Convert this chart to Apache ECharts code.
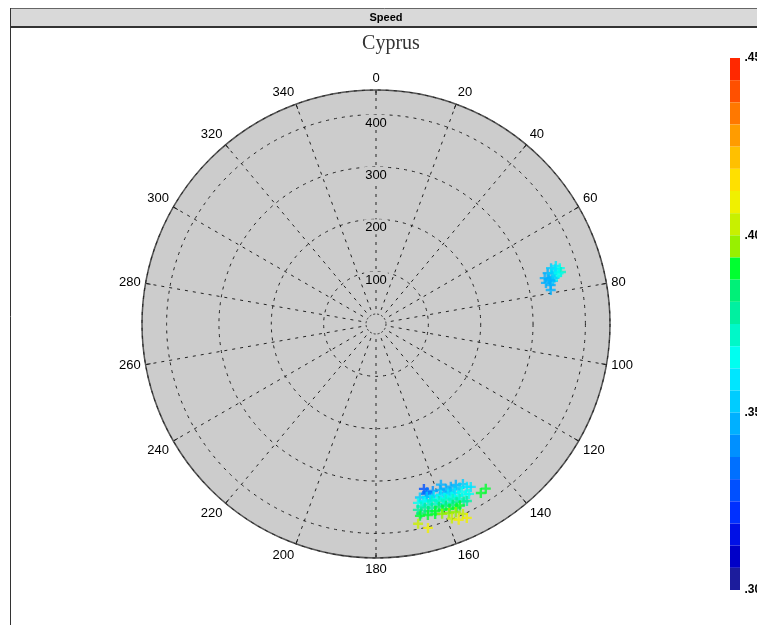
<!DOCTYPE html>
<html>
<head>
<meta charset="utf-8">
<script src="https://cdn.jsdelivr.net/npm/echarts@6/dist/echarts.min.js"></script>
<style>
  html, body { margin: 0; padding: 0; background: #ffffff; }
  #chart { width: 757px; height: 625px; }
</style>
</head>
<body>
<div id="chart"></div>
<script>
// Range rings and bearing spokes
const rangeMax = 447;
const rangeStep = 100;
const bearingStep = 20;

// Speed colour scale (bands listed from slow to fast)
const speedMin = 0.30;
const speedMax = 0.45;
const bandColors = [
  '#1c1c9c', '#0000c8', '#0010e6', '#0030ff', '#0050ff', '#0070ff',
  '#0090ff', '#00b0ff', '#00ccff', '#00e6ff', '#00fff0', '#00f8c8',
  '#00f0a0', '#00f078', '#00ff30', '#98f000', '#c8f000', '#f0f000',
  '#ffe000', '#ffc000', '#ff9c00', '#ff7800', '#ff5000', '#ff2800'
];

// Observations: bearing (degrees), range and speed
const bearing = [
  73.5, 74.8, 72.3, 72.1, 73.1, 74.3, 73.8, 75.4, 76.3, 75.1, 77.4, 79.0, 76.4,
  74.0, 73.0, 75.5, 74.5, 76.0,
  163.8, 163.6, 161.2, 158.9, 157.0, 155.3, 153.6, 151.5, 149.8, 158.0,
  163.1, 162.5, 158.2, 156.3, 154.6, 152.9, 150.8,
  165.8, 163.6, 161.4, 159.2, 157.0, 155.0, 152.9, 151.3,
  165.1, 162.9, 160.7, 158.5, 156.3, 154.3, 152.2,
  166.8, 164.6, 162.4, 160.4, 158.3, 156.3, 154.4, 152.8,
  166.1, 163.9, 161.7, 159.7, 157.6, 155.6, 153.7,
  167.3, 165.1, 163.1, 161.0, 159.0, 157.0, 155.2,
  166.6, 164.4, 162.4, 160.3, 158.3, 156.3,
  167.1, 164.8, 162.7, 160.8, 158.9, 157.0, 155.4, 154.9, 158.7, 157.1,
  168.1, 165.7, 146.3, 148.2
];
const range = [
  342, 334, 351, 361, 367, 367, 356, 341, 348, 357, 342, 340, 334,
  350, 358, 352, 362, 343,
  328, 338, 337, 340, 342, 342, 343, 348, 360, 331,
  336, 346, 348, 350, 350, 351, 356,
  342, 344, 346, 349, 352, 356, 360, 370,
  350, 352, 354, 357, 360, 364, 368,
  351, 352, 354, 359, 361, 365, 370, 380,
  359, 360, 362, 367, 369, 373, 378,
  364, 363, 367, 369, 372, 375, 382,
  372, 371, 375, 377, 380, 383,
  376, 378, 380, 384, 387, 390, 399, 409, 399, 406,
  390, 402, 378, 380
];
const speed = [
  0.350, 0.348, 0.355, 0.362, 0.368, 0.372, 0.360, 0.350, 0.352, 0.365, 0.350, 0.348, 0.350,
  0.356, 0.362, 0.356, 0.368, 0.350,
  0.330, 0.335, 0.340, 0.345, 0.345, 0.350, 0.350, 0.355, 0.360, 0.345,
  0.334, 0.338, 0.348, 0.348, 0.352, 0.354, 0.358,
  0.355, 0.355, 0.360, 0.360, 0.360, 0.360, 0.365, 0.365,
  0.360, 0.360, 0.364, 0.364, 0.365, 0.366, 0.368,
  0.365, 0.365, 0.370, 0.370, 0.370, 0.372, 0.375, 0.378,
  0.370, 0.370, 0.373, 0.374, 0.375, 0.378, 0.380,
  0.378, 0.380, 0.380, 0.383, 0.385, 0.385, 0.388,
  0.385, 0.386, 0.388, 0.390, 0.392, 0.392,
  0.392, 0.390, 0.392, 0.395, 0.398, 0.395, 0.402, 0.412, 0.405, 0.410,
  0.405, 0.408, 0.390, 0.388
];

const points = bearing.map((b, i) => [range[i], b, speed[i]]);

const bandWidth = (speedMax - speedMin) / bandColors.length;
const pieces = bandColors.map((c, i) => ({
  min: speedMin + i * bandWidth,
  max: speedMin + (i + 1) * bandWidth,
  color: c
}));

const sans = '"Liberation Sans", Arial, sans-serif';
const chart = echarts.init(document.getElementById('chart'), null, { renderer: 'canvas' });

const barTop = 58, barHeight = 532;
const dialCenter = [376, 324], dialRadius = 234, hubRadius = 10;

const hiddenAngle = (polarIndex, z) => ({
  polarIndex, type: 'value', min: 0, max: 360, startAngle: 90, z,
  axisLine: { show: false }, axisTick: { show: false },
  axisLabel: { show: false }, splitLine: { show: false }
});

chart.setOption({
  backgroundColor: '#ffffff',
  animation: false,
  title: {
    text: 'Cyprus',
    left: 386,
    top: 29,
    textAlign: 'center',
    textStyle: { fontFamily: '"Liberation Serif", "Times New Roman", serif', fontSize: 20, fontWeight: 'normal', color: '#333333' }
  },
  graphic: [
    {
      type: 'rect', silent: true, z: 0,
      shape: { x: 10.5, y: 8.5, width: 760, height: 18 },
      style: { fill: '#d9d9d9', stroke: '#666666', lineWidth: 1 }
    },
    {
      type: 'line', silent: true, z: 1,
      shape: { x1: 10, y1: 27, x2: 757, y2: 27 },
      style: { stroke: '#333333', lineWidth: 2 }
    },
    {
      type: 'line', silent: true, z: 1,
      shape: { x1: 10.5, y1: 8, x2: 10.5, y2: 625 },
      style: { stroke: '#333333', lineWidth: 1 }
    },
    {
      type: 'text', silent: true, z: 2,
      x: 386, y: 18,
      style: { text: 'Speed', fill: '#000000', font: 'bold 11px ' + sans, align: 'center', verticalAlign: 'middle' }
    }
  ],
  polar: [
    { center: dialCenter, radius: dialRadius },               // dial rim, rings, labels
    { center: dialCenter, radius: hubRadius },                // small dashed hub
    { center: dialCenter, radius: dialRadius },               // grey dial face
    { center: dialCenter, radius: [hubRadius, dialRadius] }   // spokes from hub to rim
  ],
  angleAxis: [
    {
      polarIndex: 0,
      type: 'value', min: 0, max: 360, interval: bearingStep,
      startAngle: 90, clockwise: true, z: 1,
      axisLine: { lineStyle: { color: '#555555', width: 1.5 } },
      axisTick: { show: true, inside: true, length: 5, lineStyle: { color: '#000000' } },
      axisLabel: {
        margin: 5, align: 'center', verticalAlign: 'middle',
        color: '#000000', fontSize: 13, fontFamily: sans, showMaxLabel: false
      },
      splitLine: { show: false }
    },
    {
      polarIndex: 1,
      type: 'value', min: 0, max: 360, startAngle: 90, z: 1,
      axisLine: { lineStyle: { type: [2, 2], color: '#333333', width: 1 } },
      axisTick: { show: false },
      axisLabel: { show: false },
      splitLine: { show: false }
    },
    hiddenAngle(2, 0),
    {
      polarIndex: 3,
      type: 'value', min: 0, max: 360, interval: bearingStep,
      startAngle: 90, clockwise: true, z: 1,
      axisLine: { show: false }, axisTick: { show: false }, axisLabel: { show: false },
      splitLine: { show: true, lineStyle: { type: [3, 5], color: '#222222', width: 1 } }
    }
  ],
  radiusAxis: [
    {
      polarIndex: 0,
      type: 'value', min: 0, max: rangeMax, interval: rangeStep, z: 2,
      axisLine: { show: false },
      axisTick: { show: false },
      axisLabel: {
        showMinLabel: false, showMaxLabel: false, margin: 0,
        align: 'center', verticalAlign: 'top',
        color: '#000000', fontSize: 13, fontFamily: sans,
        backgroundColor: '#cccccc', padding: [2, 1, 0, 1]
      },
      splitLine: { show: true, lineStyle: { type: [3, 5], color: '#222222', width: 1 } }
    },
    { polarIndex: 1, type: 'value', min: 0, max: 1, show: false },
    {
      polarIndex: 2,
      type: 'value', min: 0, max: rangeMax, z: 0,
      axisLine: { show: false }, axisTick: { show: false },
      axisLabel: { show: false }, splitLine: { show: false },
      splitArea: { show: true, areaStyle: { color: ['#cccccc'] } }
    },
    { polarIndex: 3, type: 'value', min: 0, max: 1, show: false }
  ],
  grid: { left: 730, top: barTop, width: 10, height: barHeight, show: false },
  xAxis: { type: 'value', show: false },
  yAxis: {
    type: 'value', position: 'right', min: speedMin, max: speedMax, interval: 0.05,
    axisLine: { show: false }, axisTick: { show: false }, splitLine: { show: false },
    axisLabel: {
      margin: 12, color: '#000000', fontSize: 12, fontWeight: 'bold', fontFamily: sans,
      formatter: v => v.toFixed(2).replace(/^0/, '')
    }
  },
  visualMap: {
    type: 'piecewise',
    seriesIndex: 0,
    dimension: 2,
    pieces: pieces,
    orient: 'vertical',
    left: 730, top: barTop,
    itemWidth: 10, itemHeight: barHeight / bandColors.length, itemGap: 0,
    itemSymbol: 'rect',
    showLabel: false,
    align: 'left',
    padding: 0,
    selectedMode: false,
    hoverLink: false
  },
  series: [
    {
      type: 'scatter',
      coordinateSystem: 'polar',
      polarIndex: 0,
      symbol: 'path://M3.8,0H6.2V3.8H10V6.2H6.2V10H3.8V6.2H0V3.8H3.8Z',
      symbolSize: 10,
      data: points,
      z: 3
    }
  ]
});
</script>
</body>
</html>
